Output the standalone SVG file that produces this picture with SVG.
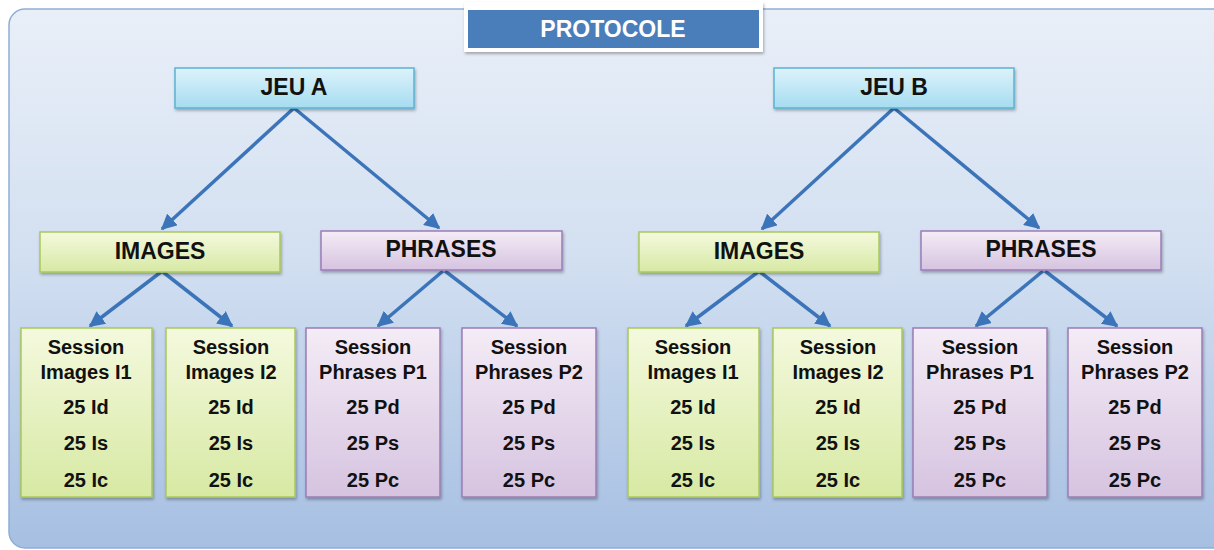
<svg xmlns="http://www.w3.org/2000/svg" width="1214" height="550" viewBox="0 0 1214 550">
<defs>
<linearGradient id="bg" x1="0" y1="0" x2="0" y2="1">
<stop offset="0" stop-color="#e9eff8"/>
<stop offset="0.45" stop-color="#d3e0f1"/>
<stop offset="1" stop-color="#a6bfe2"/>
</linearGradient>
<linearGradient id="gCyan" x1="0" y1="0" x2="0" y2="1">
<stop offset="0" stop-color="#dcf3fb"/>
<stop offset="1" stop-color="#a6dcf0"/>
</linearGradient>
<linearGradient id="gGreen" x1="0" y1="0" x2="0" y2="1">
<stop offset="0" stop-color="#f4f9de"/>
<stop offset="1" stop-color="#d7e9a3"/>
</linearGradient>
<linearGradient id="gPurple" x1="0" y1="0" x2="0" y2="1">
<stop offset="0" stop-color="#f4ecf6"/>
<stop offset="1" stop-color="#d6c3e0"/>
</linearGradient>
<filter id="sh" x="-10%" y="-10%" width="120%" height="130%">
<feDropShadow dx="1" dy="2" stdDeviation="1.5" flood-color="#000" flood-opacity="0.3"/>
</filter>
<marker id="arr" viewBox="0 0 10 10" refX="9" refY="5" markerWidth="4.5" markerHeight="4.5" orient="auto" markerUnits="strokeWidth">
<path d="M0,0 L10,5 L0,10 z" fill="#3c74b9"/>
</marker>
</defs>
<style>
text{font-family:"Liberation Sans",Arial,sans-serif;font-weight:bold;text-anchor:middle;fill:#111}
.hdr{font-size:23px}
.s{font-size:20px}
.cyan{fill:url(#gCyan);stroke:#5bb3d4;stroke-width:1.5}
.green{fill:url(#gGreen);stroke:#a9c85a;stroke-width:1.5}
.purple{fill:url(#gPurple);stroke:#9a7eb6;stroke-width:1.5}
.con{stroke:#3c74b9;stroke-width:3.5;fill:none;marker-end:url(#arr)}
</style>
<rect x="0" y="0" width="1214" height="550" fill="#ffffff"/>
<rect id="panel" x="9" y="9" width="1220" height="539" rx="16" fill="url(#bg)" stroke="#8eaed6" stroke-width="1.5"/>

<g id="protocole">
<rect x="464" y="2" width="299" height="50" fill="#ffffff" filter="url(#sh)"/>
<rect x="468" y="10" width="291" height="38" fill="#4a7ebb"/>
<text x="613" y="37" class="hdr" style="fill:#ffffff">PROTOCOLE</text>
</g>

<g id="connectors">
<path class="con" d="M294,108 L162,229"/>
<path class="con" d="M294,108 L439,228"/>
<path class="con" d="M894,108 L762,229"/>
<path class="con" d="M894,108 L1039,228"/>
<path class="con" d="M161,272 L90,326"/>
<path class="con" d="M163,272 L232,326"/>
<path class="con" d="M443,271 L378,326"/>
<path class="con" d="M445,271 L517,326"/>
<path class="con" d="M758,272 L686,326"/>
<path class="con" d="M760,272 L830,326"/>
<path class="con" d="M1043,271 L976,326"/>
<path class="con" d="M1045,271 L1117,326"/>
</g>

<g id="jeuA"><rect x="175" y="68" width="239" height="40" class="cyan" filter="url(#sh)"/><text x="294" y="95" class="hdr">JEU A</text></g>
<g id="jeuB"><rect x="774" y="68" width="240" height="40" class="cyan" filter="url(#sh)"/><text x="894" y="95" class="hdr">JEU B</text></g>

<g id="imagesA"><rect x="40" y="232" width="240" height="40" class="green" filter="url(#sh)"/><text x="160" y="259" class="hdr">IMAGES</text></g>
<g id="phrasesA"><rect x="321" y="231" width="241" height="39" class="purple" filter="url(#sh)"/><text x="441" y="257" class="hdr">PHRASES</text></g>
<g id="imagesB"><rect x="639" y="232" width="240" height="40" class="green" filter="url(#sh)"/><text x="759" y="259" class="hdr">IMAGES</text></g>
<g id="phrasesB"><rect x="921" y="231" width="240" height="39" class="purple" filter="url(#sh)"/><text x="1041" y="257" class="hdr">PHRASES</text></g>

<g id="sessA_I1"><rect x="21" y="328" width="131" height="169" class="green" filter="url(#sh)"/>
<text x="86" y="354" class="s">Session</text><text x="86" y="379" class="s">Images I1</text><text x="86" y="414" class="s">25 Id</text><text x="86" y="450" class="s">25 Is</text><text x="86" y="487" class="s">25 Ic</text></g>
<g id="sessA_I2"><rect x="166" y="328" width="129" height="169" class="green" filter="url(#sh)"/>
<text x="231" y="354" class="s">Session</text><text x="231" y="379" class="s">Images I2</text><text x="231" y="414" class="s">25 Id</text><text x="231" y="450" class="s">25 Is</text><text x="231" y="487" class="s">25 Ic</text></g>
<g id="sessA_P1"><rect x="306" y="328" width="134" height="169" class="purple" filter="url(#sh)"/>
<text x="373" y="354" class="s">Session</text><text x="373" y="379" class="s">Phrases P1</text><text x="373" y="414" class="s">25 Pd</text><text x="373" y="450" class="s">25 Ps</text><text x="373" y="487" class="s">25 Pc</text></g>
<g id="sessA_P2"><rect x="462" y="328" width="134" height="169" class="purple" filter="url(#sh)"/>
<text x="529" y="354" class="s">Session</text><text x="529" y="379" class="s">Phrases P2</text><text x="529" y="414" class="s">25 Pd</text><text x="529" y="450" class="s">25 Ps</text><text x="529" y="487" class="s">25 Pc</text></g>

<g id="sessB_I1"><rect x="628" y="328" width="131" height="169" class="green" filter="url(#sh)"/>
<text x="693" y="354" class="s">Session</text><text x="693" y="379" class="s">Images I1</text><text x="693" y="414" class="s">25 Id</text><text x="693" y="450" class="s">25 Is</text><text x="693" y="487" class="s">25 Ic</text></g>
<g id="sessB_I2"><rect x="773" y="328" width="129" height="169" class="green" filter="url(#sh)"/>
<text x="838" y="354" class="s">Session</text><text x="838" y="379" class="s">Images I2</text><text x="838" y="414" class="s">25 Id</text><text x="838" y="450" class="s">25 Is</text><text x="838" y="487" class="s">25 Ic</text></g>
<g id="sessB_P1"><rect x="913" y="328" width="134" height="169" class="purple" filter="url(#sh)"/>
<text x="980" y="354" class="s">Session</text><text x="980" y="379" class="s">Phrases P1</text><text x="980" y="414" class="s">25 Pd</text><text x="980" y="450" class="s">25 Ps</text><text x="980" y="487" class="s">25 Pc</text></g>
<g id="sessB_P2"><rect x="1068" y="328" width="134" height="169" class="purple" filter="url(#sh)"/>
<text x="1135" y="354" class="s">Session</text><text x="1135" y="379" class="s">Phrases P2</text><text x="1135" y="414" class="s">25 Pd</text><text x="1135" y="450" class="s">25 Ps</text><text x="1135" y="487" class="s">25 Pc</text></g>
</svg>
